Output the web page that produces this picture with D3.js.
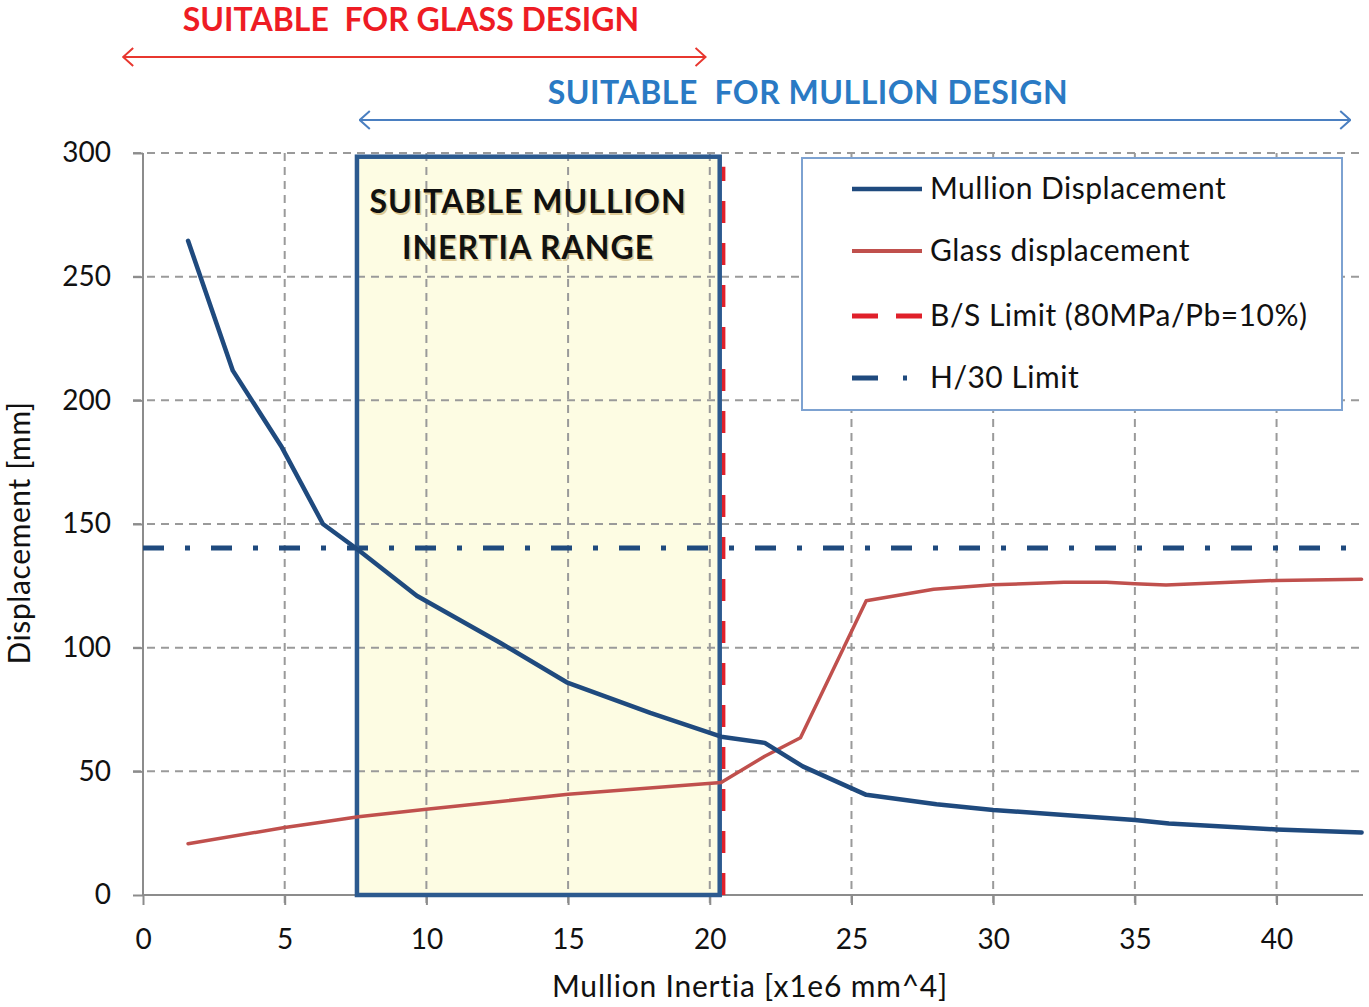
<!DOCTYPE html>
<html>
<head>
<meta charset="utf-8">
<script src="https://cdn.jsdelivr.net/npm/d3@7"></script>
<style>
  html, body { margin: 0; padding: 0; background: #fff; }
  svg { display: block; }
  text { font-family: Lato, "Open Sans", sans-serif; white-space: pre; }
</style>
</head>
<body>
<svg id="chart" width="1369" height="1007"></svg>
<script>
// ---- data ----
const mullionX = [1.59, 3.17, 4.9, 6.35, 7.6, 9.66, 12.6, 14.95, 17.9, 20.4, 21.94, 23.28, 25.52, 28.0, 30.0, 32.5, 35.0, 36.2, 40.0, 43.0];
const mullionY = [264.5, 212, 181, 150, 139.5, 121, 102, 86, 73.6, 64, 61.5, 52, 40.5, 36.7, 34.4, 32.3, 30.3, 28.9, 26.5, 25.3];
const glassX = [1.59, 5.0, 6.35, 7.6, 10.0, 15.0, 20.4, 21.94, 23.2, 25.52, 27.9, 30.0, 32.5, 34.0, 35.0, 36.1, 40.0, 43.0];
const glassY = [20.7, 27.3, 29.5, 31.6, 34.7, 40.7, 45.5, 56.1, 63.6, 119, 123.6, 125.4, 126.4, 126.4, 125.8, 125.3, 127.2, 127.7];
const h30Limit = 140.3;
const bsLimitX = 20.48;
const rangeStart = 7.55, rangeEnd = 20.35, rangeTop = 298.5;
const glassRange = [-0.7, 19.85];
const mullionRange = [7.65, 42.6];
const xTicks = [0, 5, 10, 15, 20, 25, 30, 35, 40];
const yTicks = [0, 50, 100, 150, 200, 250, 300];
const legendLabels = ["Mullion Displacement", "Glass displacement", "B/S Limit (80MPa/Pb=10%)", "H/30 Limit"];

// ---- setup ----
const svg = d3.select("#chart");
const x = d3.scaleLinear().domain([0, 43.05]).range([143, 1363]);
const y = d3.scaleLinear().domain([0, 300]).range([895, 153]);

const navy = "#1f4a7e", red = "#c0504d", gridC = "#9a9a9a";

// suitable range fill
svg.append("rect")
  .attr("x", x(rangeStart)).attr("y", y(rangeTop))
  .attr("width", x(rangeEnd) - x(rangeStart)).attr("height", y(0) - y(rangeTop))
  .attr("fill", "#fdfce3");

// grid
const g = svg.append("g");
g.selectAll(".hg").data(yTicks.filter(d => d > 0)).join("line")
  .attr("x1", 133).attr("x2", 1363)
  .attr("y1", d => y(d)).attr("y2", d => y(d))
  .attr("stroke", gridC).attr("stroke-width", 2).attr("stroke-dasharray", "8,6");
g.selectAll(".vg").data(xTicks.filter(d => d > 0)).join("line")
  .attr("x1", d => x(d)).attr("x2", d => x(d))
  .attr("y1", y(300)).attr("y2", 905)
  .attr("stroke", gridC).attr("stroke-width", 2).attr("stroke-dasharray", "8,6");

// axes
const yAxis = d3.axisLeft(y).tickValues(yTicks).tickSize(10).tickPadding(22);
const xAxis = d3.axisBottom(x).tickValues(xTicks).tickSize(10).tickPadding(24);
const ya = svg.append("g").attr("transform", `translate(${x(0)},0)`).call(yAxis);
const xa = svg.append("g").attr("transform", `translate(0,${y(0)})`).call(xAxis);
[ya, xa].forEach(a => {
  a.select(".domain").attr("stroke", "#8c8c8c").attr("stroke-width", 2);
  a.selectAll(".tick line").attr("stroke", "#8c8c8c").attr("stroke-width", 2);
  a.selectAll(".tick text").attr("fill", "#111").style("font-size", "28px").style("font-family", "Lato, sans-serif");
});
ya.select(".domain").attr("d", `M0,${y(300)}V${y(0)}`);
xa.select(".domain").attr("d", `M${x(0)},0H1363`);

// axis titles
svg.append("text").attr("transform", "translate(30,533) rotate(-90)")
  .attr("text-anchor", "middle").style("font-size", "30px").style("letter-spacing", "0.6px").attr("fill", "#111")
  .text("Displacement [mm]");
svg.append("text").attr("x", 750).attr("y", 997)
  .attr("text-anchor", "middle").style("font-size", "30px").style("letter-spacing", "0.8px").attr("fill", "#111")
  .text("Mullion Inertia [x1e6 mm^4]");

// H/30 limit
svg.append("line").attr("x1", x(0)).attr("x2", 1363)
  .attr("y1", y(h30Limit)).attr("y2", y(h30Limit))
  .attr("stroke", navy).attr("stroke-width", 5)
  .attr("stroke-dasharray", "21,21,5,21");

// B/S limit
svg.append("line").attr("x1", x(bsLimitX)).attr("x2", x(bsLimitX))
  .attr("y1", y(0)).attr("y2", y(rangeTop) + 10)
  .attr("stroke", "#e0202a").attr("stroke-width", 4)
  .attr("stroke-dasharray", "22,20");

// range box border
svg.append("rect")
  .attr("x", x(rangeStart)).attr("y", y(rangeTop))
  .attr("width", x(rangeEnd) - x(rangeStart)).attr("height", y(0) - y(rangeTop))
  .attr("fill", "none").attr("stroke", "#2c5a8f").attr("stroke-width", 4.5);

// lines
const line = d3.line().x(d => x(d[0])).y(d => y(d[1]));
svg.append("path").datum(glassX.map((v, i) => [v, glassY[i]]))
  .attr("d", line).attr("fill", "none").attr("stroke", red).attr("stroke-width", 3.5)
  .attr("stroke-linejoin", "round").attr("stroke-linecap", "round");
svg.append("path").datum(mullionX.map((v, i) => [v, mullionY[i]]))
  .attr("d", line).attr("fill", "none").attr("stroke", navy).attr("stroke-width", 4.5)
  .attr("stroke-linejoin", "round").attr("stroke-linecap", "round");

// box text
const bx = 528;
[["SUITABLE MULLION", 213], ["INERTIA RANGE", 259]].forEach(([t, yy]) => {
  svg.append("text").attr("x", bx + 1.5).attr("y", yy + 1.5).attr("text-anchor", "middle")
    .style("font-size", "32px").style("font-weight", 700).style("letter-spacing", "1px")
    .attr("fill", "#c8a860").attr("opacity", 0.6).text(t);
  svg.append("text").attr("x", bx).attr("y", yy).attr("text-anchor", "middle")
    .style("font-size", "32px").style("font-weight", 700).style("letter-spacing", "1px")
    .attr("fill", "#111").text(t);
});

// legend
const lg = svg.append("g");
lg.append("rect").attr("x", 802).attr("y", 158).attr("width", 540).attr("height", 252)
  .attr("fill", "#fff").attr("stroke", "#7da2d1").attr("stroke-width", 2);
const legendStyles = [
  { c: navy, w: 4.5, dash: null },
  { c: red, w: 4, dash: null },
  { c: "#e0202a", w: 5, dash: "26,18" },
  { c: navy, w: 5, dash: "26,25,4,30" }
];
const legendY = [189, 251, 316, 378];
legendLabels.forEach((lab, i) => {
  const s = legendStyles[i];
  const l = lg.append("line").attr("x1", 852).attr("x2", 922)
    .attr("y1", legendY[i]).attr("y2", legendY[i])
    .attr("stroke", s.c).attr("stroke-width", s.w);
  if (s.dash) l.attr("stroke-dasharray", s.dash);
  lg.append("text").attr("x", 930).attr("y", legendY[i] + 10)
    .style("font-size", "30px").style("letter-spacing", "0.5px").attr("fill", "#111").text(lab);
});

// top annotations
const defs = svg.append("defs");
function arrowMarker(id, color) {
  defs.append("marker").attr("id", id).attr("viewBox", "0 0 12 20")
    .attr("refX", 11).attr("refY", 10).attr("markerWidth", 12).attr("markerHeight", 20)
    .attr("markerUnits", "userSpaceOnUse").attr("orient", "auto-start-reverse")
    .append("path").attr("d", "M1,1 L11,10 L1,19").attr("fill", "none")
    .attr("stroke", color).attr("stroke-width", 2);
}
arrowMarker("arrRed", "#e8372f");
arrowMarker("arrBlue", "#4a7fc1");

svg.append("line").attr("x1", x(glassRange[0])).attr("x2", x(glassRange[1]))
  .attr("y1", 57).attr("y2", 57).attr("stroke", "#e8372f").attr("stroke-width", 2)
  .attr("marker-start", "url(#arrRed)").attr("marker-end", "url(#arrRed)");
svg.append("text").attr("x", 411).attr("y", 31).attr("text-anchor", "middle")
  .style("font-size", "32px").style("font-weight", 700).attr("fill", "#ee1c24")
  .text("SUITABLE  FOR GLASS DESIGN");

svg.append("line").attr("x1", x(mullionRange[0])).attr("x2", x(mullionRange[1]))
  .attr("y1", 120).attr("y2", 120).attr("stroke", "#4a7fc1").attr("stroke-width", 2)
  .attr("marker-start", "url(#arrBlue)").attr("marker-end", "url(#arrBlue)");
svg.append("text").attr("x", 808).attr("y", 104).attr("text-anchor", "middle")
  .style("font-size", "32px").style("font-weight", 700).style("letter-spacing", "0.5px").attr("fill", "#2a7ac4")
  .text("SUITABLE  FOR MULLION DESIGN");
</script>
</body>
</html>
